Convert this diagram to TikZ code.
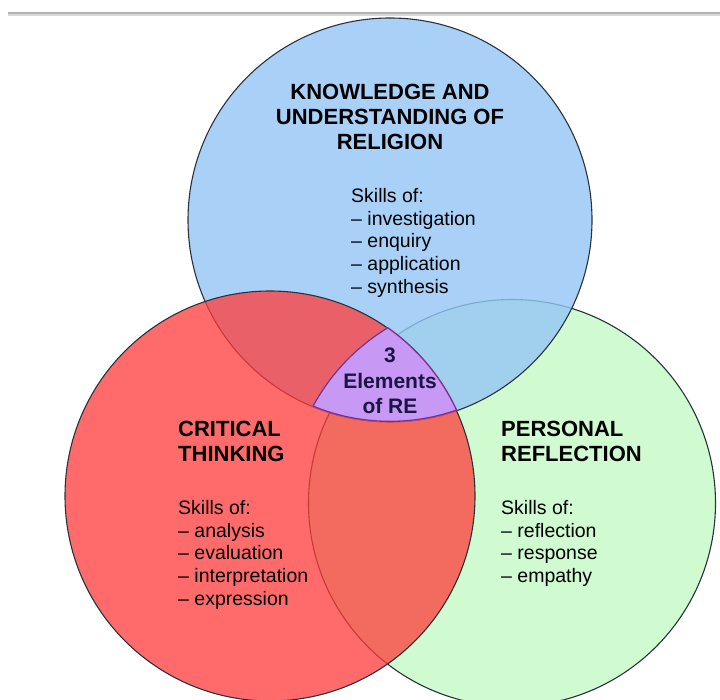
\documentclass[tikz,border=0pt]{standalone}
\usepackage{fontspec}
\setmainfont{Liberation Sans}
\usetikzlibrary{positioning}

\definecolor{knowblue}{RGB}{148,198,245}
\definecolor{critred}{RGB}{255,58,58}
\definecolor{persgreen}{RGB}{208,250,208}
\definecolor{corepurple}{RGB}{200,152,245}
\definecolor{coreedge}{RGB}{120,50,140}
\definecolor{ringedge}{RGB}{40,50,62}
\definecolor{corenavy}{RGB}{25,22,70}

\begin{document}
\begin{tikzpicture}[
            x=1pt, y=-1pt,
            ring/.style={circle, draw=ringedge, line width=1.1pt, inner sep=0pt},
            head/.style={font=\fontsize{22}{25}\selectfont\bfseries, inner sep=0pt},
            skills/.style={font=\fontsize{19.5}{22.8}\selectfont, align=left, inner sep=0pt, anchor=north west},
            core/.style={font=\fontsize{21}{25.3}\selectfont\bfseries, text=corenavy, align=center, inner sep=0pt}
        ]
            \useasboundingbox (0,0) rectangle (720,700);

            % page edge
            \draw[gray!30, line width=1.5pt] (8,15) -- (720,15);
            \draw[gray!60, line width=1.5pt] (8,13) -- (720,13);

            % Circles - green first, red on top
            \node[ring, fill=persgreen, minimum size=407pt] (pers) at (512,503) {};
            \node[ring, fill=knowblue, fill opacity=0.8, minimum size=404pt] (know) at (390,220) {};
            \node[ring, fill=critred, fill opacity=0.75, minimum size=410pt] (crit) at (270,496) {};

            % Middle piece (a bit wider than the real overlap)
            \coordinate (coremid) at (493,503);
            \begin{scope}
                \clip (know.center) circle (202);
                \clip (crit.center) circle (206);
                \clip (coremid) circle (205);
                \fill[corepurple] (coremid) circle (205);
                \draw[coreedge, line width=2.6pt] (know.center) circle (202)
                    (crit.center) circle (206) (coremid) circle (205);
            \end{scope}

            % Headings
            \node[head, align=center, anchor=north] (knowhead) at (390,84)
                {KNOWLEDGE AND\\UNDERSTANDING OF\\RELIGION};
            \node[head, align=left, anchor=north west] (crithead) at (178,421) {CRITICAL\\THINKING};
            \node[head, align=left, anchor=north west] (pershead) at (501,421) {PERSONAL\\REFLECTION};

            % Skills lists
            \node[skills] (knowskills) at (351,188)
                {Skills of:\\– investigation\\– enquiry\\– application\\– synthesis};
            \node[skills] (critskills) at (178,500)
                {Skills of:\\– analysis\\– evaluation\\– interpretation\\– expression};
            \node[skills] (persskills) at (501,500)
                {Skills of:\\– reflection\\– response\\– empathy};

            % Centre label
            \node[core, anchor=north] (corelabel) at (390,348) {3\\Elements\\of RE};
        \end{tikzpicture}
\end{document}
